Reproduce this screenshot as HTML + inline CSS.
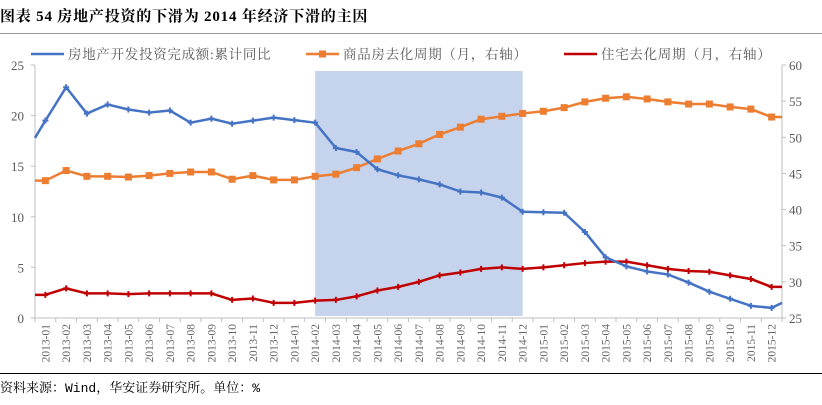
<!DOCTYPE html>
<html><head><meta charset="utf-8"><style>
body{margin:0;background:#fff;width:822px;height:400px;overflow:hidden;font-family:"Liberation Serif","Noto Serif CJK SC",serif}
</style></head><body>
<svg id="chart" width="822" height="400" xmlns="http://www.w3.org/2000/svg">
<text x="0" y="21" font-size="15" font-weight="bold" fill="#000" letter-spacing="0.8" font-family="Liberation Serif, Noto Serif CJK SC, serif">图表 54 房地产投资的下滑为 2014 年经济下滑的主因</text>
<line x1="0" y1="33.5" x2="822" y2="33.5" stroke="#999" stroke-width="1"/>
<line x1="0" y1="373.5" x2="822" y2="373.5" stroke="#000" stroke-width="1"/>
<text x="0" y="392" font-size="13" fill="#000" font-family="Liberation Mono, Noto Serif CJK SC, serif">资料来源：Wind，华安证券研究所。单位：%</text>
<g id="plot"></g>
</svg>
<script>
const categories=["2013-01","2013-02","2013-03","2013-04","2013-05","2013-06","2013-07","2013-08","2013-09","2013-10","2013-11","2013-12","2014-01","2014-02","2014-03","2014-04","2014-05","2014-06","2014-07","2014-08","2014-09","2014-10","2014-11","2014-12","2015-01","2015-02","2015-03","2015-04","2015-05","2015-06","2015-07","2015-08","2015-09","2015-10","2015-11","2015-12"];
// values incl. leading (axis edge) and trailing (axis edge) points
const investValues=[17.8,19.5,22.8,20.2,21.1,20.6,20.3,20.5,19.3,19.7,19.2,19.5,19.8,19.55,19.3,16.8,16.4,14.7,14.1,13.7,13.2,12.5,12.4,11.9,10.5,10.45,10.4,8.5,6.0,5.1,4.6,4.3,3.5,2.6,1.9,1.2,1.0,1.5];
const commercialValues=[44.0,44.0,45.4,44.6,44.6,44.5,44.7,45.0,45.2,45.2,44.2,44.7,44.1,44.1,44.6,44.9,45.8,47.0,48.1,49.1,50.4,51.4,52.5,52.9,53.3,53.6,54.1,54.9,55.4,55.6,55.3,54.9,54.6,54.6,54.2,53.9,52.8,52.8];
const residentialValues=[28.2,28.2,29.1,28.4,28.4,28.3,28.4,28.4,28.4,28.4,27.5,27.7,27.1,27.1,27.4,27.5,28.0,28.8,29.3,30.0,30.9,31.3,31.8,32.0,31.8,32.0,32.3,32.6,32.8,32.8,32.3,31.8,31.5,31.4,30.9,30.4,29.3,29.3];
const leftTicks=[0,5,10,15,20,25];
const rightTicks=[25,30,35,40,45,50,55,60];
const shadeStart="2014-02", shadeEnd="2014-12";

const NS="http://www.w3.org/2000/svg";
const g=document.getElementById('plot');
const X0=35,X1=782,Y0=318,Y1=65;
const step=(X1-X0)/categories.length;
const xc=i=>X0+step*(i+0.5);
const yl=v=>Y0-(v-0)/25*(Y0-Y1);
const yr=v=>Y0-(v-25)/35*(Y0-Y1);
function mk(t,a){const e=document.createElementNS(NS,t);for(const k in a)e.setAttribute(k,a[k]);g.appendChild(e);return e;}
const s0=categories.indexOf(shadeStart),s1=categories.indexOf(shadeEnd);
const band=mk('rect',{x:xc(s0),y:71,width:xc(s1)-xc(s0),height:245,fill:'#c5d3ec'});


const la=mk('line',{x1:X0,y1:Y1,x2:X0,y2:Y0,stroke:'#bfbfbf'});


const ra=mk('line',{x1:X1,y1:Y1,x2:X1,y2:Y0,stroke:'#bfbfbf'});


const xa=mk('line',{x1:X0,y1:Y0,x2:X1,y2:Y0,stroke:'#bfbfbf'});


leftTicks.forEach(v=>{
  mk('line',{x1:X0-4,x2:X0,y1:yl(v),y2:yl(v),stroke:'#bfbfbf'});
  const t=mk('text',{x:24,y:yl(v)+5,'font-size':13,fill:'#595959','text-anchor':'end'});
  t.textContent=v;
  
  
});
rightTicks.forEach(v=>{
  mk('line',{x1:X1,x2:X1+4,y1:yr(v),y2:yr(v),stroke:'#bfbfbf'});
  const t=mk('text',{x:789,y:yr(v)+5,'font-size':13,fill:'#595959'});
  t.textContent=v;
  
  
});
for(let i=0;i<=categories.length;i++){mk('line',{x1:X0+step*i,x2:X0+step*i,y1:Y0,y2:Y0+4,stroke:'#bfbfbf'});}
categories.forEach((c,i)=>{
  const x=xc(i)+4;
  const t=mk('text',{x:x,y:324,'font-size':11.5,fill:'#666','text-anchor':'end',transform:`rotate(-90 ${x} 324)`});
  t.textContent=c;
  
  
});
function xp(k,n){return k===0?X0:(k===n-1?X1:xc(k-1));}
function series(vals,yf,color,name,marker){
  const n=vals.length;
  const pts=vals.map((v,k)=>xp(k,n)+','+yf(v)).join(' ');
  const pl=mk('polyline',{points:pts,fill:'none',stroke:color,'stroke-width':2.5,'stroke-linejoin':'round'});
  
  
  vals.forEach((v,k)=>{
    if(k===0||k===n-1)return;
    const x=xp(k,n),y=yf(v);
    let m;
    if(marker==='sq') m=mk('rect',{x:x-3.5,y:y-3.5,width:7,height:7,fill:color});
    else m=mk('path',{d:`M${x-3},${y}L${x+3},${y}M${x},${y-3}L${x},${y+3}`,stroke:color,'stroke-width':2});
    
    
  });
}
series(commercialValues,yr,'#ed7d31','commercial-destock','sq');
series(residentialValues,yr,'#c00000','residential-destock','plus');
series(investValues,yl,'#4472c4','investment-growth','plus');
function leg(x,color,label,marker,name){
  const l=mk('line',{x1:x,x2:x+33,y1:54,y2:54,stroke:color,'stroke-width':2.5});
  
  
  if(marker==='sq')mk('rect',{x:x+13,y:50.5,width:7,height:7,fill:color});
  const t=mk('text',{x:x+37,y:59,'font-size':13.5,fill:'#595959','letter-spacing':0.7,'font-family':'Liberation Serif, Noto Serif CJK SC, serif'});
  t.textContent=label;
  
  
}
leg(31,'#4472c4','房地产开发投资完成额:累计同比','plus','investment-growth');
leg(306,'#ed7d31','商品房去化周期（月，右轴）','sq','commercial-destock');
leg(564,'#c00000','住宅去化周期（月，右轴）','plus','residential-destock');
</script>
</body></html>
